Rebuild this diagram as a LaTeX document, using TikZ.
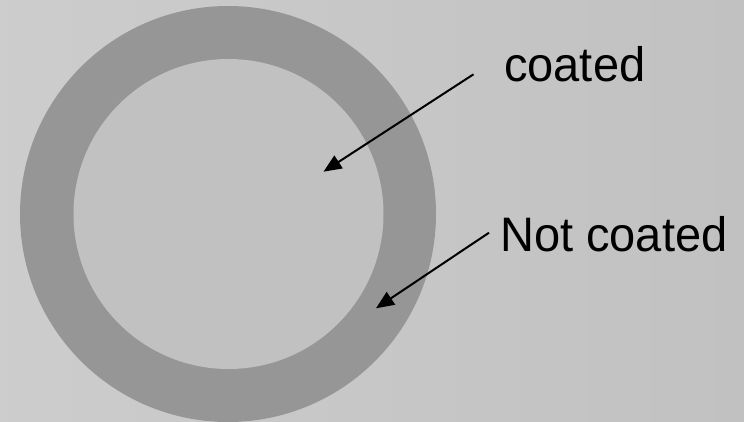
\documentclass[tikz,border=0pt]{standalone}
\usepackage{fontspec}
\setmainfont{Liberation Sans}
\usetikzlibrary{arrows.meta}
\definecolor{bgcol}{HTML}{C7C7C7}
\definecolor{ringcol}{HTML}{969696}
\definecolor{innercol}{HTML}{C1C1C1}
\tikzset{
  lbl/.style={inner sep=0pt, anchor=base west, yscale=1.03, font=\fontsize{47}{50}\selectfont},
  pointer/.style={draw=black, line width=2pt, -{Triangle[length=18pt,width=15pt]}},
}
\begin{document}
\begin{tikzpicture}[x=1pt,y=-1pt]
\useasboundingbox (0,0) rectangle (744,421);
\clip (0,0) rectangle (744,421);
\fill[left color=bgcol!90!white, right color=bgcol!97!black] (0,0) rectangle (744,421);
\node[circle, fill=ringcol, minimum size=416pt, inner sep=0pt] (outer) at (228,214) {};
\node[circle, fill=innercol, minimum size=310pt, inner sep=0pt] (inner) at (228.5,214) {};
\node[lbl] (coated) at (504,81.7) {coated};
\node[lbl] (notcoated) at (500,251) {Not coated};
\coordinate (s1) at (473.5,74.3);
\coordinate (t1) at (323.5,171.7);
\coordinate (s2) at (489,232.7);
\coordinate (t2) at (376,308.3);
\draw[pointer] (s1) -- (t1);
\draw[pointer] (s2) -- (t2);
\end{tikzpicture}
\end{document}
